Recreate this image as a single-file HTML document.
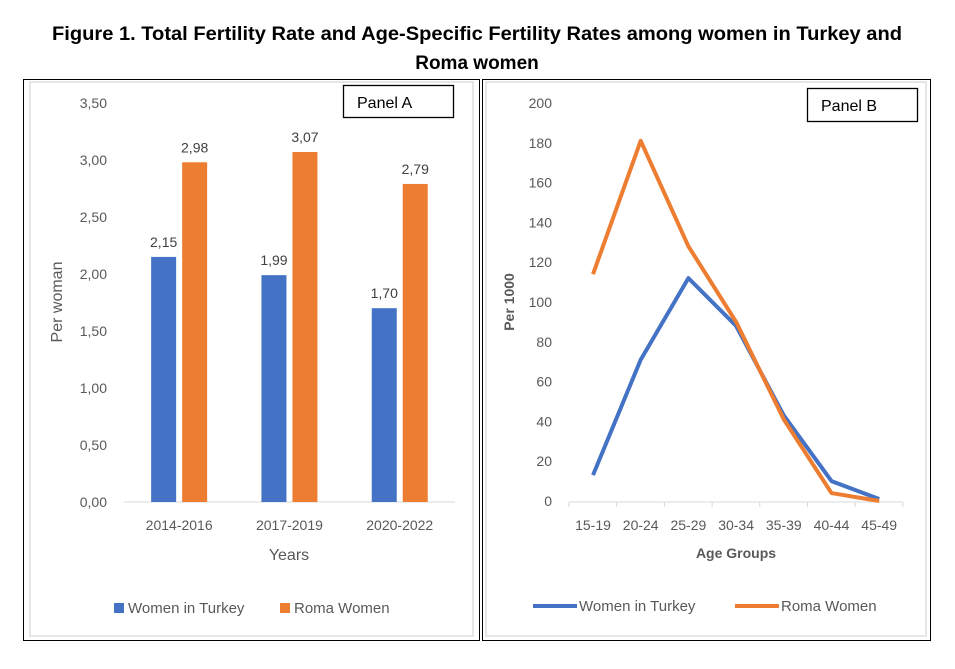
<!DOCTYPE html>
<html><head><meta charset="utf-8"><style>
body{margin:0;background:#fff;width:955px;height:664px;overflow:hidden;font-family:"Liberation Sans",sans-serif}
</style></head><body>
<svg width="955" height="664" xmlns="http://www.w3.org/2000/svg">
<text x="477" y="40" text-anchor="middle" font-weight="bold" font-size="19" textLength="850" lengthAdjust="spacingAndGlyphs">Figure 1. Total Fertility Rate and Age-Specific Fertility Rates among women in Turkey and</text>
<text x="477" y="69" text-anchor="middle" font-weight="bold" font-size="19">Roma women</text>
<rect x="23.5" y="79.5" width="456" height="561" fill="none" stroke="#000"/>
<rect x="30" y="82" width="443" height="554" fill="none" stroke="#ddd" stroke-width="1.5"/>
<rect x="482.5" y="79.5" width="448" height="561" fill="none" stroke="#000"/>
<rect x="486" y="82" width="440" height="554" fill="none" stroke="#ddd" stroke-width="1.5"/>
<g id="a"></g><g id="b"></g>
<rect x="343.5" y="85.5" width="110" height="32" fill="#fff" stroke="#000" stroke-width="1.3"/>
<text x="357" y="108" font-size="16">Panel A</text>
<rect x="807.5" y="88.5" width="110" height="33" fill="#fff" stroke="#000" stroke-width="1.3"/>
<text x="821" y="111" font-size="16">Panel B</text>
</svg>
<script>
const yearCats=["2014-2016","2017-2019","2020-2022"];
const turkeyTFR=[2.15,1.99,1.70];
const romaTFR=[2.98,3.07,2.79];
const aTicks=["0,00","0,50","1,00","1,50","2,00","2,50","3,00","3,50"];
const ageCats=["15-19","20-24","25-29","30-34","35-39","40-44","45-49"];
const turkeyASFR=[13,71,112,88,43,10,1];
const romaASFR=[114,181,128,90,41,4,0];
const bTicks=[0,20,40,60,80,100,120,140,160,180,200];
const NS="http://www.w3.org/2000/svg";
const BLUE="#4472C4",ORANGE="#ED7D31",GRAY="#595959";
function mk(p,t,a){const e=document.createElementNS(NS,t);for(const k in a)e.setAttribute(k,a[k]);p.appendChild(e);return e;}
const A=document.getElementById('a');
const ayA=v=>502-v*114;
const axA=i=>124+(i+0.5)*110.3;
aTicks.forEach((t,i)=>{const e=mk(A,'text',{x:107,y:ayA(i*0.5)+5,'text-anchor':'end','font-size':14,fill:GRAY});e.textContent=t;

});
const al=mk(A,'line',{x1:124,x2:455,y1:502,y2:502,stroke:'#d9d9d9','stroke-width':1});


yearCats.forEach((c,i)=>{const cx=axA(i);
[[turkeyTFR[i],BLUE,cx-28],[romaTFR[i],ORANGE,cx+3]].forEach(([v,col,x],j)=>{
const r=mk(A,'rect',{x:x,y:ayA(v),width:25,height:v*114,fill:col});


const l=mk(A,'text',{x:x+12.5,y:ayA(v)-10,'text-anchor':'middle','font-size':14,fill:'#404040'});l.textContent=v.toFixed(2).replace('.',',');

});
const t=mk(A,'text',{x:cx,y:530,'text-anchor':'middle','font-size':14,fill:GRAY});t.textContent=c;

});
let e=mk(A,'text',{x:289,y:560,'text-anchor':'middle','font-size':16,fill:GRAY});e.textContent="Years";


e=mk(A,'text',{x:0,y:0,'text-anchor':'middle','font-size':16,fill:GRAY,transform:'translate(62,302) rotate(-90)'});e.textContent="Per woman";


[[114,BLUE,"Women in Turkey"],[280,ORANGE,"Roma Women"]].forEach(([x,c,t])=>{
const s=mk(A,'rect',{x:x,y:603,width:10,height:10,fill:c});


const l=mk(A,'text',{x:x+14,y:613,'font-size':15,fill:GRAY});l.textContent=t;

});
const B=document.getElementById('b');
const ayB=v=>501-v*1.99;
const axB=i=>593+i*47.7;
bTicks.forEach(v=>{const t=mk(B,'text',{x:552,y:ayB(v)+5,'text-anchor':'end','font-size':14,fill:GRAY});t.textContent=v;

});
const bl=mk(B,'line',{x1:569,x2:903,y1:502,y2:502,stroke:'#d9d9d9'});


for(let i=0;i<=ageCats.length;i++){const tk=mk(B,'line',{x1:569+i*47.7,x2:569+i*47.7,y1:502,y2:507,stroke:'#d9d9d9'});

}
ageCats.forEach((c,i)=>{const t=mk(B,'text',{x:axB(i),y:530,'text-anchor':'middle','font-size':14,fill:GRAY});t.textContent=c;

});
[[turkeyASFR,BLUE,'line-turkey'],[romaASFR,ORANGE,'line-roma']].forEach(([d,c,n])=>{
const p=mk(B,'polyline',{points:d.map((v,i)=>axB(i)+','+ayB(v)).join(' '),fill:'none',stroke:c,'stroke-width':4,'stroke-linejoin':'round'});

});
e=mk(B,'text',{x:736,y:558,'text-anchor':'middle','font-size':14,'font-weight':'bold',fill:GRAY});e.textContent="Age Groups";


e=mk(B,'text',{x:0,y:0,'text-anchor':'middle','font-size':14,'font-weight':'bold',fill:GRAY,transform:'translate(514,302) rotate(-90)'});e.textContent="Per 1000";


[[533,BLUE,"Women in Turkey"],[735,ORANGE,"Roma Women"]].forEach(([x,c,t])=>{
const s=mk(B,'line',{x1:x,x2:x+44,y1:606,y2:606,stroke:c,'stroke-width':4});


const l=mk(B,'text',{x:x+46,y:611,'font-size':15,fill:GRAY});l.textContent=t;

});
</script>
</body></html>
